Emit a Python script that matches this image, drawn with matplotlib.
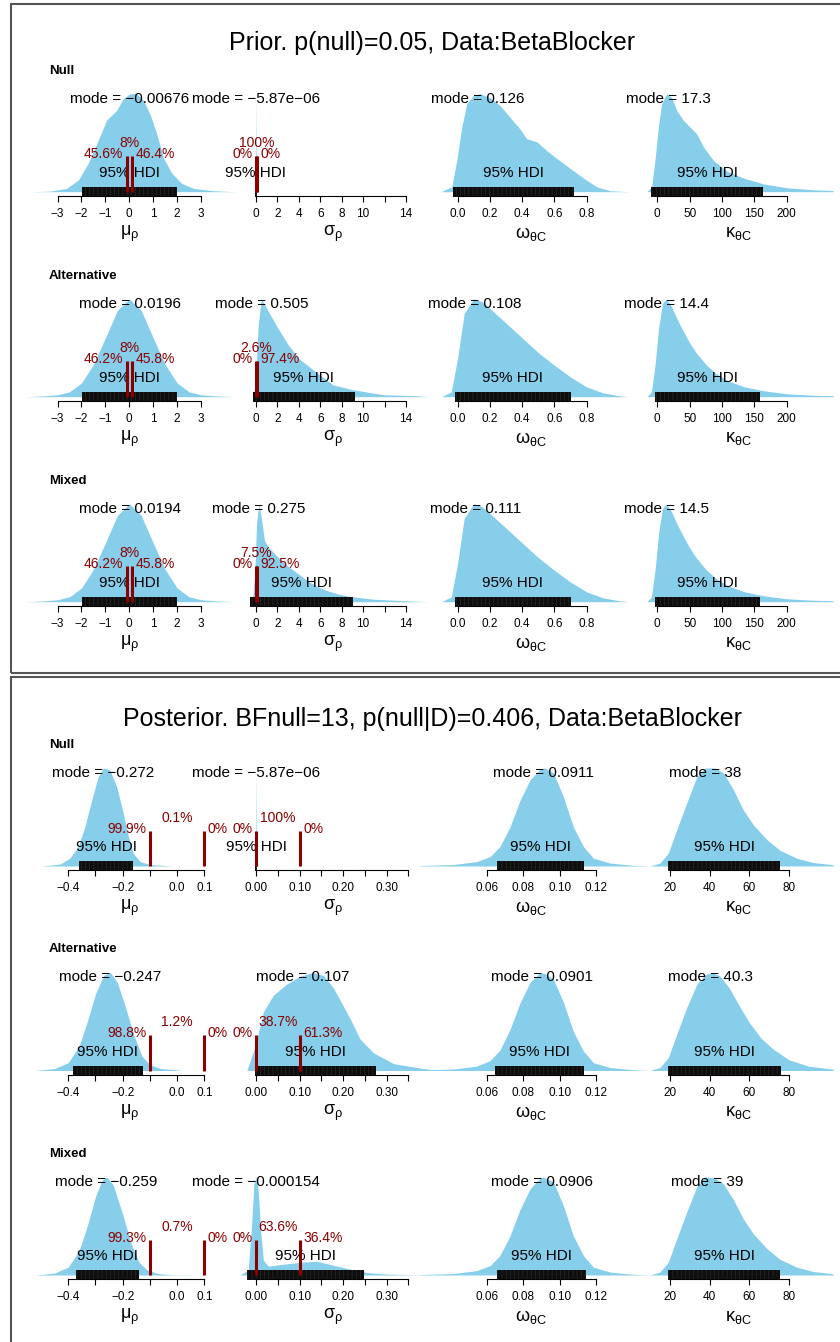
import matplotlib
matplotlib.use("Agg")
import matplotlib.pyplot as plt
from matplotlib.patches import Rectangle

plt.rcParams["font.family"] = ["Liberation Sans", "DejaVu Sans"]
plt.rcParams["mathtext.fontset"] = "custom"
plt.rcParams["mathtext.rm"] = "Liberation Sans"
plt.rcParams["mathtext.it"] = "Liberation Sans:italic"
plt.rcParams["hatch.linewidth"] = 0.5

W, H = 840, 1342
SKY = "#87CEEB"
DARKRED = "#8B0000"

# ---- data -----------------------------------------------------------------
row_names = ["Null", "Alternative", "Mixed"]
param_labels = [r"$\mathrm{\mu}_{\mathrm{\rho}}$", r"$\mathrm{\sigma}_{\mathrm{\rho}}$",
                r"$\mathrm{\omega}_{\mathrm{\theta C}}$", r"$\mathrm{\kappa}_{\mathrm{\theta C}}$"]

prior_title = "Prior. p(null)=0.05, Data:BetaBlocker"
post_title = "Posterior. BFnull=13, p(null|D)=0.406, Data:BetaBlocker"

# density outlines (value, height relative to the peak)
prior_null_mu = [(-4.18, 0), (-3.32, 0.005), (-2.62, 0.034), (-2.13, 0.12), (-1.72, 0.29), (-1.36, 0.49),
                 (-0.95, 0.73), (-0.74, 0.78), (-0.53, 0.83), (-0.25, 0.95), (0.03, 1.0), (0.31, 1.0),
                 (0.59, 0.93), (0.87, 0.79), (1.15, 0.59), (1.42, 0.35), (1.77, 0.19), (2.19, 0.085),
                 (2.68, 0.034), (3.51, 0.01), (4.46, 0)]
prior_null_sigma = [(-0.1, 0), (-0.04, 0.04), (0, 1.0), (0.04, 0.04), (0.1, 0)]
prior_null_omega = [(-0.105, 0), (-0.037, 0.05), (-0.006, 0.32), (0.025, 0.66), (0.056, 0.9), (0.097, 0.98),
                    (0.138, 1.0), (0.2, 0.96), (0.262, 0.88), (0.324, 0.76), (0.386, 0.64), (0.428, 0.54),
                    (0.49, 0.51), (0.552, 0.42), (0.614, 0.34), (0.696, 0.24), (0.779, 0.14), (0.862, 0.05),
                    (0.944, 0.01), (1.058, 0)]
prior_null_kappa = [(-16.4, 0), (-8.7, 0.05), (-3.6, 0.32), (1.6, 0.66), (6.8, 0.9), (14.5, 1.0), (22.3, 0.96),
                    (30, 0.83), (40.2, 0.73), (50.6, 0.66), (60.9, 0.59), (71.1, 0.46), (86.6, 0.32),
                    (107.3, 0.21), (133, 0.14), (164, 0.08), (200, 0.04), (241, 0.02), (272, 0.012)]

prior_alt_mu = [(-4.3, 0), (-3.5, 0.01), (-3, 0.02), (-2.5, 0.05), (-2, 0.14), (-1.5, 0.33), (-1, 0.6),
                (-0.5, 0.88), (0, 1.0), (0.5, 0.88), (1, 0.6), (1.5, 0.33), (2, 0.14), (2.5, 0.05),
                (3, 0.02), (3.5, 0.01), (4.4, 0)]
prior_alt_sigma = [(-0.3, 0), (-0.1, 0.1), (0, 0.25), (0.2, 0.73), (0.5, 1.0), (1.0, 0.9), (1.93, 0.72),
                   (3, 0.53), (4.1, 0.38), (5.5, 0.26), (7.2, 0.12), (9.1, 0.07), (11.9, 0.02), (15, 0.01),
                   (16, 0)]
prior_alt_omega = [(-0.1, 0), (-0.04, 0.05), (0, 0.4), (0.04, 0.85), (0.1, 1.0), (0.15, 0.97), (0.2, 0.9),
                   (0.3, 0.75), (0.4, 0.6), (0.5, 0.45), (0.6, 0.32), (0.7, 0.2), (0.8, 0.1), (0.9, 0.04),
                   (1.0, 0.01), (1.06, 0)]
prior_alt_kappa = [(-16, 0), (-9, 0.05), (-3, 0.35), (2, 0.7), (8, 0.95), (14, 1.0), (22, 0.92), (30, 0.8),
                   (40, 0.67), (50, 0.55), (60, 0.45), (75, 0.33), (90, 0.24), (110, 0.16), (135, 0.1),
                   (165, 0.06), (200, 0.03), (240, 0.015), (272, 0.01)]

prior_mix_mu = [(-4.3, 0), (-3.5, 0.01), (-3, 0.02), (-2.5, 0.05), (-2, 0.14), (-1.5, 0.33), (-1, 0.6),
                (-0.5, 0.88), (0, 1.0), (0.5, 0.88), (1, 0.6), (1.5, 0.33), (2, 0.14), (2.5, 0.05),
                (3, 0.02), (3.5, 0.01), (4.4, 0)]
prior_mix_sigma = [(-0.6, 0), (-0.3, 0.05), (-0.1, 0.3), (0.05, 0.8), (0.27, 1.0), (0.5, 0.85), (0.8, 0.62),
                   (1.2, 0.55), (2, 0.46), (3, 0.36), (4, 0.28), (5, 0.2), (6, 0.14), (7, 0.1), (8, 0.07),
                   (9, 0.05), (11, 0.025), (13, 0.015), (16, 0)]
prior_mix_omega = [(-0.1, 0), (-0.04, 0.05), (0, 0.4), (0.04, 0.85), (0.1, 1.0), (0.15, 0.97), (0.2, 0.9),
                   (0.3, 0.75), (0.4, 0.6), (0.5, 0.45), (0.6, 0.32), (0.7, 0.2), (0.8, 0.1), (0.9, 0.04),
                   (1.0, 0.01), (1.06, 0)]
prior_mix_kappa = [(-16, 0), (-9, 0.05), (-3, 0.35), (2, 0.7), (8, 0.95), (14, 1.0), (22, 0.92), (30, 0.8),
                   (40, 0.67), (50, 0.55), (60, 0.45), (75, 0.33), (90, 0.24), (110, 0.16), (135, 0.1),
                   (165, 0.06), (200, 0.03), (240, 0.015), (272, 0.01)]

post_null_mu = [(-0.498, 0), (-0.43, 0.02), (-0.394, 0.08), (-0.363, 0.2), (-0.339, 0.4), (-0.314, 0.67),
                (-0.29, 0.91), (-0.271, 1.0), (-0.247, 0.98), (-0.222, 0.81), (-0.198, 0.54), (-0.179, 0.3),
                (-0.161, 0.13), (-0.136, 0.045), (-0.1, 0.015), (-0.016, 0)]
post_null_sigma = [(-0.004, 0), (-0.001, 0.03), (0, 1.0), (0.001, 0.03), (0.004, 0)]
post_null_omega = [(0.0234, 0.005), (0.0417, 0.015), (0.0545, 0.045), (0.0618, 0.095), (0.0673, 0.2),
                   (0.0728, 0.4), (0.0783, 0.67), (0.0838, 0.88), (0.0893, 0.99), (0.092, 1.0),
                   (0.0966, 0.95), (0.102, 0.71), (0.1075, 0.4), (0.113, 0.2), (0.1185, 0.08),
                   (0.1277, 0.03), (0.1405, 0.007), (0.1496, 0)]
post_null_kappa = [(9.9, 0), (14.9, 0.03), (19.1, 0.13), (23.4, 0.37), (28.4, 0.64), (33.5, 0.91), (37.7, 1.0),
                   (42.7, 1.0), (47, 0.95), (52, 0.78), (57.1, 0.57), (62.1, 0.42), (68.9, 0.27),
                   (75.6, 0.16), (84, 0.08), (92.5, 0.035), (102.4, 0.013)]

post_alt_mu = [(-0.52, 0), (-0.45, 0.02), (-0.4, 0.08), (-0.36, 0.25), (-0.33, 0.5), (-0.3, 0.78),
               (-0.27, 0.97), (-0.245, 1.0), (-0.22, 0.9), (-0.19, 0.65), (-0.16, 0.37), (-0.13, 0.15),
               (-0.1, 0.06), (-0.06, 0.02), (0, 0.005), (0.03, 0)]
post_alt_sigma = [(-0.021, 0), (-0.002, 0.25), (0.017, 0.6), (0.04, 0.77), (0.07, 0.88), (0.1, 0.96),
                  (0.13, 1.0), (0.155, 0.97), (0.178, 0.84), (0.216, 0.53), (0.239, 0.32), (0.27, 0.18),
                  (0.316, 0.07), (0.377, 0.025), (0.42, 0)]
post_alt_omega = [(0.0234, 0.005), (0.0417, 0.015), (0.0545, 0.045), (0.0618, 0.1), (0.0673, 0.21),
                  (0.0728, 0.42), (0.0783, 0.69), (0.0838, 0.9), (0.0893, 1.0), (0.092, 0.99),
                  (0.0966, 0.93), (0.102, 0.7), (0.1075, 0.4), (0.113, 0.2), (0.1185, 0.08),
                  (0.1277, 0.03), (0.1405, 0.007), (0.1496, 0)]
post_alt_kappa = [(9.9, 0), (14.9, 0.03), (19.1, 0.13), (23.4, 0.37), (28.4, 0.64), (33.5, 0.88), (38, 0.98),
                  (41, 1.0), (45, 0.97), (50, 0.84), (55, 0.66), (60, 0.49), (66, 0.33), (72, 0.22),
                  (80, 0.11), (90, 0.045), (102.4, 0.013)]

post_mix_mu = [(-0.52, 0), (-0.45, 0.02), (-0.4, 0.08), (-0.36, 0.25), (-0.33, 0.5), (-0.3, 0.8),
               (-0.275, 0.97), (-0.258, 1.0), (-0.235, 0.92), (-0.2, 0.62), (-0.17, 0.33), (-0.14, 0.13),
               (-0.11, 0.05), (-0.07, 0.015), (-0.02, 0.003), (0.08, 0)]
post_mix_sigma = [(-0.037, 0), (-0.018, 0.05), (-0.01, 0.52), (-0.005, 0.93), (0, 1.0), (0.005, 0.86),
                  (0.011, 0.43), (0.017, 0.15), (0.028, 0.09), (0.063, 0.11), (0.101, 0.13), (0.139, 0.14),
                  (0.178, 0.1), (0.216, 0.06), (0.254, 0.025), (0.3, 0.01), (0.377, 0)]
post_mix_omega = [(0.0234, 0.005), (0.0417, 0.015), (0.0545, 0.045), (0.0618, 0.095), (0.0673, 0.2),
                  (0.0728, 0.4), (0.0783, 0.67), (0.0838, 0.88), (0.0893, 0.99), (0.091, 1.0),
                  (0.0966, 0.95), (0.102, 0.71), (0.1075, 0.4), (0.113, 0.2), (0.1185, 0.08),
                  (0.1277, 0.03), (0.1405, 0.007), (0.1496, 0)]
post_mix_kappa = [(9.9, 0), (14.9, 0.03), (19.1, 0.13), (23.4, 0.37), (28.4, 0.64), (33.5, 0.9), (37.7, 1.0),
                  (42.7, 0.99), (47, 0.93), (52, 0.77), (57.1, 0.57), (62.1, 0.42), (68.9, 0.27),
                  (75.6, 0.16), (84, 0.08), (92.5, 0.035), (102.4, 0.013)]

prior_curves = [[prior_null_mu, prior_null_sigma, prior_null_omega, prior_null_kappa],
                [prior_alt_mu, prior_alt_sigma, prior_alt_omega, prior_alt_kappa],
                [prior_mix_mu, prior_mix_sigma, prior_mix_omega, prior_mix_kappa]]
post_curves = [[post_null_mu, post_null_sigma, post_null_omega, post_null_kappa],
               [post_alt_mu, post_alt_sigma, post_alt_omega, post_alt_kappa],
               [post_mix_mu, post_mix_sigma, post_mix_omega, post_mix_kappa]]

prior_modes = [[-0.00676, -5.87e-06, 0.126, 17.3],
               [0.0196, 0.505, 0.108, 14.4],
               [0.0194, 0.275, 0.111, 14.5]]
post_modes = [[-0.272, -5.87e-06, 0.0911, 38],
              [-0.247, 0.107, 0.0901, 40.3],
              [-0.259, -0.000154, 0.0906, 39]]

prior_hdis = [[(-1.98, 1.98), (-0.12, 0.12), (-0.027, 0.723), (-9, 164)],
              [(-1.98, 1.98), (-0.25, 9.2), (-0.017, 0.70), (-3.6, 159)],
              [(-1.98, 1.98), (-0.55, 9.05), (-0.017, 0.70), (-3.6, 159)]]
post_hdis = [[(-0.36, -0.161), (-0.003, 0.003), (0.0655, 0.1134), (19.1, 75.6)],
             [(-0.383, -0.125), (-0.002, 0.275), (0.0646, 0.1134), (19, 76)],
             [(-0.372, -0.139), (-0.02, 0.248), (0.0657, 0.1145), (19, 75.6)]]

# ROPEs on mu and sigma, with % of posterior below / inside / above
mu_rope = (-0.1, 0.1)
sigma_rope = (0.0, 0.1)
prior_mu_pct = [(45.6, 8, 46.4), (46.2, 8, 45.8), (46.2, 8, 45.8)]
prior_sigma_pct = [(0, 100, 0), (0, 2.6, 97.4), (0, 7.5, 92.5)]
post_mu_pct = [(99.9, 0.1, 0), (98.8, 1.2, 0), (99.3, 0.7, 0)]
post_sigma_pct = [(0, 100, 0), (0, 38.7, 61.3), (0, 63.6, 36.4)]

prior_ticks = [[-3, -2, -1, 0, 1, 2, 3], [0, 2, 4, 6, 8, 10, 12, 14],
               [0.0, 0.2, 0.4, 0.6, 0.8], [0, 50, 100, 150, 200]]
prior_ticklabels = [["\u22123", "\u22122", "\u22121", "0", "1", "2", "3"],
                    ["0", "2", "4", "6", "8", "10", "", "14"],
                    ["0.0", "0.2", "0.4", "0.6", "0.8"], ["0", "50", "100", "150", "200"]]
post_ticks = [[-0.4, -0.3, -0.2, -0.1, 0.0, 0.1], [0, 0.05, 0.1, 0.15, 0.2, 0.25, 0.3, 0.35],
              [0.06, 0.08, 0.10, 0.12], [20, 40, 60, 80]]
post_ticklabels = [["\u22120.4", "", "\u22120.2", "", "0.0", "0.1"],
                   ["0.00", "", "0.10", "", "0.20", "", "0.30", ""],
                   ["0.06", "0.08", "0.10", "0.12"], ["20", "40", "60", "80"]]

prior_xlims = [(-4.364, 4.423), (-1.68, 16.06), (-0.172, 1.081), (-32.9, 282.5)]
post_xlims = [(-0.559, 0.213), (-0.0414, 0.395), (0.0289, 0.1397), (2.81, 105.9)]

# ---- layout (pixels) ------------------------------------------------------
col_px = [(25, 235), (238, 428), (430, 632), (636, 840)]
PEAK = 98.0     # pixel height of a density peak
ROPE_TOP = 0.36
BAR = 5.0 / PEAK   # half height of the HDI bar


def fx(px):
    return px / W


def fy(py):
    return 1 - py / H


def fmt_mode(v):
    return "mode = " + f"{v:.3g}".replace("-", "\u2212")


def fmt_pct(p):
    return f"{p:g}%"


fig = plt.figure(figsize=(W / 100, H / 100), dpi=100)


def draw_block(baselines, curves, modes, hdis, ticks, ticklabels, xlims, mu_pct, sigma_pct):
    for r, yb in enumerate(baselines):
        fig.text(fx(49), fy(yb - 121), row_names[r], fontsize=9.5, fontweight="bold",
                 ha="left", va="center")
        for c, (L, R) in enumerate(col_px):
            top_px = yb - 112
            ax = fig.add_axes([fx(L), fy(yb + 4), (R - L) / W, (yb + 4 - top_px) / H])
            ax.set_xlim(*xlims[c])
            ax.set_ylim(-4 / PEAK, 112 / PEAK)
            ax.patch.set_visible(False)
            for s in ["left", "right", "top"]:
                ax.spines[s].set_visible(False)
            ax.spines["bottom"].set_bounds(ticks[c][0], ticks[c][-1])
            ax.spines["bottom"].set_linewidth(0.8)
            ax.set_yticks([])
            ax.set_xticks(ticks[c])
            ax.set_xticklabels(ticklabels[c])
            ax.tick_params(axis="x", direction="out", length=4.3, width=0.8, labelsize=8.5, pad=4.5)

            xs = [p[0] for p in curves[r][c]]
            hs = [p[1] for p in curves[r][c]]
            ax.fill_between(xs, 0, hs, color=SKY, lw=0, clip_on=False, zorder=1)

            lo, hi = hdis[r][c]
            ax.add_patch(Rectangle((lo, -BAR), hi - lo, 2 * BAR, facecolor="#0d0d0d",
                                   edgecolor="#2b2b2b", hatch="||||", lw=0, zorder=2, clip_on=False))
            ax.text((lo + hi) / 2, 0.19, "95% HDI", fontsize=11, ha="center", va="center", zorder=3)
            ax.text(modes[r][c], 0.95, fmt_mode(modes[r][c]), fontsize=11, ha="center", va="center",
                    zorder=3)

            if c < 2:
                rope = mu_rope if c == 0 else sigma_rope
                pct = mu_pct[r] if c == 0 else sigma_pct[r]
                for v in rope:
                    ax.plot([v, v], [0, ROPE_TOP], color=DARKRED, lw=2.2, solid_capstyle="butt",
                            zorder=4, clip_on=False)
                ax.annotate(fmt_pct(pct[0]), (rope[0], ROPE_TOP), xytext=(-2.5, 1.5),
                            textcoords="offset points", ha="right", va="center",
                            color=DARKRED, fontsize=10, zorder=5)
                ax.annotate(fmt_pct(pct[1]), ((rope[0] + rope[1]) / 2, ROPE_TOP), xytext=(0, 9.5),
                            textcoords="offset points", ha="center", va="center",
                            color=DARKRED, fontsize=10, zorder=5)
                ax.annotate(fmt_pct(pct[2]), (rope[1], ROPE_TOP), xytext=(2.5, 1.5),
                            textcoords="offset points", ha="left", va="center",
                            color=DARKRED, fontsize=10, zorder=5)

            fig.text(fx((L + R) / 2), fy(yb + 42), param_labels[c], fontsize=13,
                     ha="center", va="center")


# panel frames
fig.add_artist(Rectangle((fx(10.5), fy(673)), fx(860) - fx(10.5), fy(3.5) - fy(673),
                         transform=fig.transFigure, fill=False, ec="#555555", lw=1.5))
fig.add_artist(Rectangle((fx(10.5), fy(1360)), fx(860) - fx(10.5), fy(677) - fy(1360),
                         transform=fig.transFigure, fill=False, ec="#555555", lw=1.5))

fig.text(fx(432), fy(43), prior_title, fontsize=18, ha="center", va="center")
fig.text(fx(433), fy(719), post_title, fontsize=18, ha="center", va="center")

draw_block([191.7, 396.7, 601.7], prior_curves, prior_modes, prior_hdis, prior_ticks,
           prior_ticklabels, prior_xlims, prior_mu_pct, prior_sigma_pct)
draw_block([866, 1070.5, 1275], post_curves, post_modes, post_hdis, post_ticks,
           post_ticklabels, post_xlims, post_mu_pct, post_sigma_pct)

fig.savefig("out.png", dpi=100)
